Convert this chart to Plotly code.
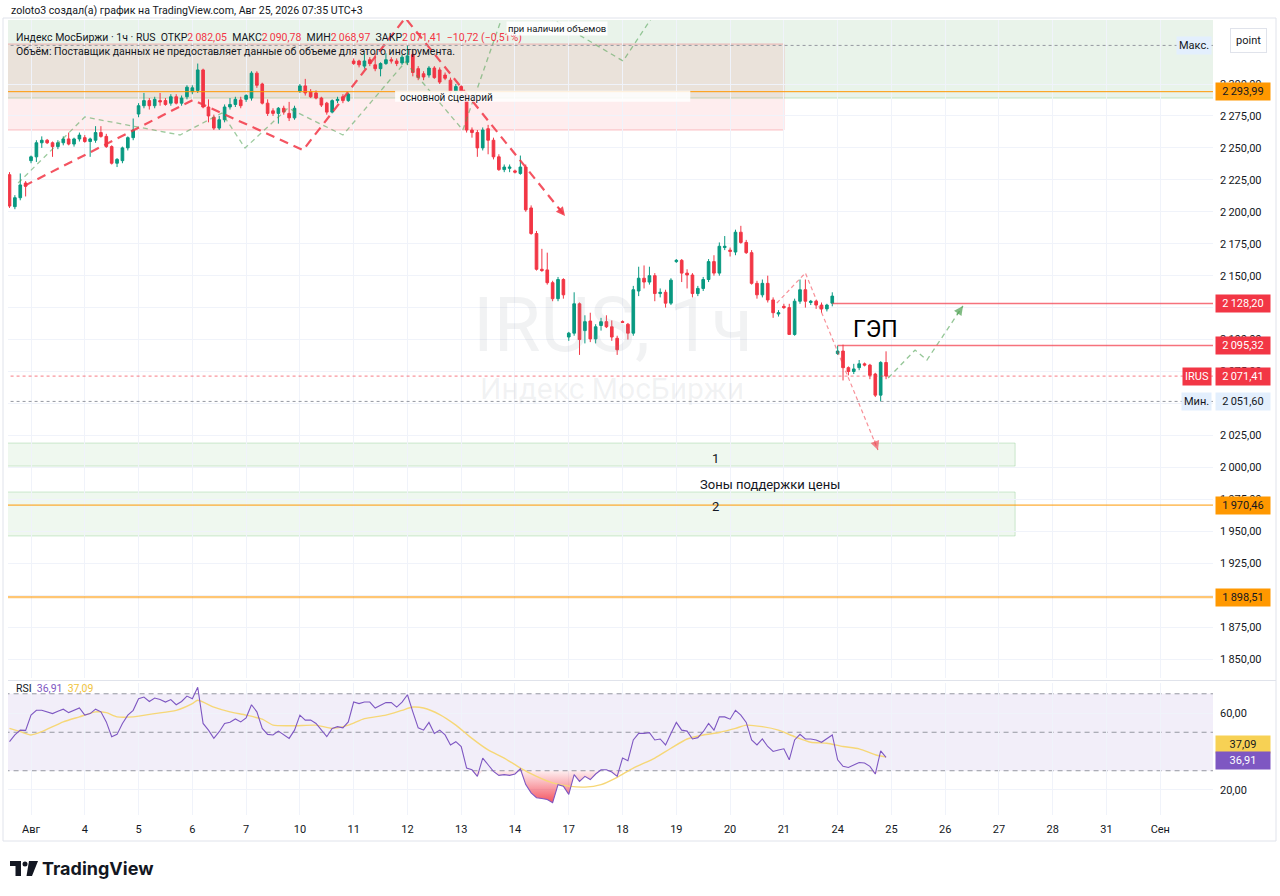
import plotly.graph_objects as go

# ---------------- DATA ----------------
day_labels = ["Авг", "4", "5", "6", "7", "10", "11", "12", "13", "14", "17", "18",
              "19", "20", "21", "24", "25", "26", "27", "28", "31", "Сен"]
bars_per_day = 10
first_day_bar = 5

opens = [2229, 2204, 2211, 2222.5,
         2240, 2243, 2254, 2256, 2254, 2251, 2254, 2257, 2253, 2257,
         2258, 2255, 2256, 2262, 2259, 2251, 2238, 2240, 2250, 2258,
         2276.5, 2283, 2287, 2283, 2287, 2287, 2285, 2290, 2285, 2290,
         2294, 2295, 2311, 2282, 2274, 2265.5, 2272, 2282, 2284, 2287.5,
         2288, 2289, 2308.5, 2300, 2285, 2279, 2277, 2281, 2277, 2273.5,
         2294.5, 2298.5, 2294, 2293, 2289, 2285, 2278, 2287, 2290, 2287,
         2318, 2318, 2314, 2319, 2315, 2312, 2316, 2319, 2318, 2316.5,
         2317, 2323, 2312, 2308, 2307, 2312.5, 2311, 2307, 2303, 2294,
         2298, 2292, 2264, 2262, 2250, 2265, 2256, 2243, 2233, 2234,
         2232, 2230, 2235, 2203, 2183, 2155, 2154.5, 2144.5, 2132, 2147,
         2102, 2105, 2128, 2107, 2114.5, 2100.5, 2111, 2114, 2110, 2101,
         2114, 2112, 2105, 2138, 2148, 2145, 2150, 2136, 2137, 2128.5,
         2161, 2162, 2152, 2150.5, 2136, 2140, 2147, 2161, 2152, 2172,
         2170, 2168.5, 2184, 2176, 2168, 2144, 2135, 2144, 2131, 2120,
         2126, 2125, 2104, 2130, 2139, 2129, 2130, 2127, 2124, 2128.5,
         2089, 2091, 2078, 2075, 2078, 2081, 2080, 2073, 2056.5, 2082.05]
highs = [2231, 2213, 2230, 2224,
         2244, 2256, 2259, 2257, 2255, 2256, 2259, 2262, 2258, 2262,
         2260, 2258, 2267, 2267, 2261, 2252, 2242, 2251, 2259, 2273,
         2285, 2293, 2289, 2290, 2293, 2289, 2292, 2292, 2291, 2299,
         2299, 2316, 2312, 2288, 2276, 2275, 2284, 2289, 2290, 2290,
         2292, 2310, 2310, 2301, 2288, 2281, 2282, 2283, 2286, 2283,
         2300, 2304, 2296, 2295, 2290, 2286, 2288, 2290, 2292, 2293,
         2320, 2319, 2324, 2321, 2324, 2317, 2324, 2321, 2320, 2323,
         2330.2, 2326, 2314, 2310, 2314, 2314, 2313, 2309, 2305, 2300,
         2299, 2293, 2266, 2264, 2266, 2268, 2258, 2245, 2237, 2237,
         2233, 2244, 2237, 2205, 2185, 2171, 2168, 2146, 2149, 2148,
         2106, 2137, 2129, 2119, 2121, 2112, 2117, 2119, 2115, 2103,
         2115, 2113, 2142, 2157, 2158, 2157, 2152, 2140, 2139, 2148,
         2163, 2163, 2155, 2152, 2142, 2149, 2163, 2166, 2176, 2181,
         2172, 2186, 2189, 2178, 2170, 2146, 2147, 2150, 2133, 2123,
         2128, 2128, 2132, 2147, 2147, 2131, 2131, 2129, 2128, 2137,
         2095.3, 2096, 2079, 2081, 2084, 2082, 2081, 2074, 2083, 2090.78]
lows = [2203, 2202, 2209, 2212,
        2238, 2239, 2250, 2253, 2243, 2249, 2252, 2252, 2251, 2255,
        2254, 2243, 2254, 2258, 2250, 2237, 2235, 2238, 2248, 2256,
        2274, 2281, 2280, 2281, 2283, 2283, 2283, 2284, 2283, 2288,
        2292, 2293, 2281, 2270, 2264, 2264, 2270, 2280, 2282, 2281,
        2286, 2287, 2297, 2284, 2275, 2275, 2269, 2276, 2271, 2272,
        2293, 2291, 2289, 2288, 2282, 2276, 2277, 2285, 2285, 2286,
        2315, 2313, 2312, 2314, 2310, 2306, 2315, 2316, 2314, 2315,
        2315, 2306, 2303, 2303, 2305, 2304, 2300, 2303, 2292, 2292,
        2293, 2262, 2258, 2243, 2248, 2245, 2241, 2232, 2231, 2231,
        2230, 2229, 2200, 2182, 2154, 2153, 2143, 2130, 2130, 2132,
        2099, 2103, 2088, 2097, 2098, 2097, 2107, 2109, 2099, 2088,
        2113, 2100, 2103, 2134, 2140, 2143, 2130, 2133, 2125, 2127,
        2160, 2145, 2140, 2133, 2134, 2138, 2145, 2150, 2150, 2170,
        2165, 2166, 2175, 2167, 2143, 2132, 2133, 2129, 2117, 2118,
        2124, 2104, 2103, 2128, 2125, 2127, 2124, 2121, 2122, 2126,
        2088, 2068, 2072, 2073, 2076, 2079, 2069, 2055, 2051.6, 2068.97]
closes = [2204.5, 2211, 2221, 2220,
          2243, 2254, 2256, 2254, 2251, 2254, 2257, 2253, 2257, 2260,
          2255, 2257, 2262, 2259, 2251, 2238, 2241, 2250, 2258, 2264,
          2283, 2287, 2283, 2288, 2286, 2284, 2290, 2285, 2289, 2297.5,
          2297, 2311, 2282, 2275, 2265.5, 2272, 2282, 2284, 2288, 2283,
          2291, 2308.5, 2299, 2285, 2277, 2277, 2281, 2278, 2273.5, 2281,
          2298.5, 2293, 2290, 2289, 2283.5, 2278, 2287, 2288, 2287, 2292,
          2316, 2315, 2318, 2316, 2312, 2316, 2319, 2318, 2316, 2321,
          2322, 2309, 2305, 2305.5, 2312.5, 2305, 2301.5, 2304.5, 2294, 2298,
          2294, 2264, 2262, 2250, 2264, 2256, 2243, 2233, 2235, 2235,
          2231, 2235, 2201.5, 2183, 2155, 2154, 2144.5, 2132, 2147, 2135,
          2105, 2128, 2100, 2114, 2100.5, 2110, 2114, 2110, 2102, 2092,
          2113.5, 2105, 2139, 2148, 2145, 2150, 2136, 2137, 2128.5, 2146.5,
          2162, 2152, 2150.5, 2136, 2140, 2147, 2161, 2152, 2173, 2173,
          2169, 2184, 2176, 2168, 2144, 2135, 2144, 2131, 2121, 2121,
          2125, 2104, 2130, 2139, 2130, 2130, 2127, 2124, 2127, 2134,
          2091, 2078, 2075, 2077, 2081, 2080, 2072, 2056.5, 2082.13, 2071.41]

rsi = [45.1, 48.6, 51.1, 51.0, 58.9, 61.4, 61.4, 60.6, 59.7, 60.9,
       62.0, 60.2, 61.4, 62.6, 58.9, 59.7, 62.0, 60.6, 55.4, 47.7,
       48.9, 54.6, 58.9, 61.4, 67.4, 68.3, 66.0, 67.8, 67.0, 65.7,
       67.0, 64.3, 66.0, 68.8, 67.4, 73.4, 54.6, 51.1, 46.8, 50.3,
       54.6, 55.2, 56.9, 55.4, 57.5, 64.3, 60.6, 52.0, 48.9, 48.6,
       50.6, 48.6, 46.8, 51.1, 58.9, 56.3, 56.3, 54.6, 51.1, 47.7,
       52.0, 52.9, 52.3, 55.4, 65.7, 64.9, 65.7, 65.7, 62.6, 64.0,
       65.4, 65.4, 63.1, 65.7, 69.5, 60.6, 52.3, 51.1, 55.1, 49.4,
       51.1, 48.6, 43.4, 45.1, 42.6, 31.4, 30.5, 27.1, 36.6, 33.1,
       29.7, 27.6, 28.0, 27.6, 28.3, 31.0, 22.8, 18.5, 16.0, 15.6,
       15.1, 13.4, 22.8, 22.0, 17.7, 28.0, 24.5, 27.1, 25.4, 28.3,
       30.5, 30.5, 29.3, 27.1, 36.6, 35.2, 46.0, 49.4, 49.4, 49.8,
       46.0, 46.5, 43.4, 49.4, 55.1, 51.1, 50.6, 46.5, 47.2, 50.3,
       54.6, 51.1, 58.0, 58.0, 56.8, 61.4, 58.9, 55.1, 46.0, 43.4,
       46.5, 42.6, 40.0, 40.8, 41.4, 35.7, 46.0, 48.9, 46.5, 46.5,
       46.0, 44.8, 46.5, 48.6, 35.7, 32.3, 31.7, 32.8, 34.3, 34.0,
       32.3, 28.3, 40.3, 36.91]

rsi_ma_bars = [1, 3, 5, 7, 11, 14, 17, 19, 21, 24, 28, 32, 35, 36, 39, 42, 45, 48,
               50, 54, 58, 61, 64, 67, 71, 74, 76, 78, 81, 84, 87, 90, 93, 96, 99,
               102, 105, 108, 111, 114, 117, 121, 124, 127, 130, 133, 136, 138,
               141, 144, 147, 150, 153, 156, 159, 162, 164]
rsi_ma = [52.0, 50.3, 48.6, 50.3, 55.4, 58.0, 60.6, 60.2, 58.0, 58.0, 59.7, 61.4,
          64.9, 66.6, 63.1, 60.6, 58.9, 56.8, 53.7, 53.4, 53.7, 52.0, 53.7, 57.1,
          58.9, 61.4, 63.1, 62.6, 59.2, 53.7, 46.8, 40.8, 36.6, 31.4, 27.1, 23.7,
          22.0, 21.5, 22.8, 26.6, 31.4, 36.6, 41.7, 46.5, 48.6, 49.9, 52.0, 53.7,
          52.9, 51.1, 47.7, 44.8, 44.3, 42.6, 41.4, 38.3, 37.09]

# horizontal levels drawn by the author
orange_levels = [2293.99, 1970.46, 1898.51]
gap_levels = [2128.20, 2095.32]
gap_start_bars = [154, 155]
zone1 = [2001.0, 2019.0]
zone2 = [1946.3, 1980.7]
zones_end_bar = 188
resist_box = [2264.0, 2331.3]
resist_box_end_bar = 145
upper_box_bottom = 2289.0

# scenario paths (bar index, price)
red_path_bars = [3.7, 35.1, 55.6, 74.6, 104.3]
red_path_prices = [2220.2, 2287.5, 2248.3, 2351.7, 2196.7]
pink_path_bars = [143.7, 149.0, 162.5]
pink_path_prices = [2128.6, 2152.1, 2013.6]
green_path_bars = [2.6, 15.0, 32.7, 40.5, 44.8, 52.8, 63.0, 74.6, 85.3, 94.1, 115.1, 122.0]
green_path_prices = [2222.5, 2274.2, 2260.1, 2277.3, 2249.9, 2281.2, 2260.1, 2317.2,
                     2264.0, 2370.4, 2318.0, 2361.8]
green2_bars = [164.4, 169.4, 171.6, 178.3]
green2_prices = [2069.9, 2091.8, 2084.0, 2126.3]

price_ticks = [1850 + 25 * k for k in range(19)]
hidden_price_ticks = [2125]   # covered by the 2128,20 label in the original
rsi_ticks = [20, 60]

# ---------------- HELPERS ----------------
W, H = 1280, 896
ML, MR, MT, MB = 8, 67, 20, 81
PW, PH = W - ML - MR, H - MT - MB


def xp(px):
    return (px - ML) / PW


def yp(py):
    return (H - MB - py) / PH


def fmt(v):
    return f"{v:,.2f}".replace(",", "\u2009").replace(".", ",")


bars = list(range(1, len(closes) + 1))
day_ticks = [first_day_bar + bars_per_day * k for k in range(len(day_labels))]

RED = "#f23645"
GREEN = "#089981"
ORANGE = "#ff9800"
TXT = "#131722"
GRID = "#f0f3fa"

fig = go.Figure()

fig.add_trace(go.Candlestick(
    x=bars, open=opens, high=highs, low=lows, close=closes,
    increasing=dict(line=dict(color=GREEN, width=1), fillcolor=GREEN),
    decreasing=dict(line=dict(color=RED, width=1), fillcolor=RED),
    whiskerwidth=0, xaxis="x", yaxis="y", hoverinfo="skip", showlegend=False))

# scenario paths
fig.add_trace(go.Scatter(x=green_path_bars, y=green_path_prices, mode="lines",
                         line=dict(color="rgba(76,160,80,0.55)", width=1.3, dash="5px,4px"),
                         xaxis="x", yaxis="y", hoverinfo="skip"))
fig.add_trace(go.Scatter(x=green2_bars, y=green2_prices, mode="lines",
                         line=dict(color="rgba(76,160,80,0.6)", width=1.3, dash="5px,4px"),
                         xaxis="x", yaxis="y", hoverinfo="skip"))
fig.add_trace(go.Scatter(x=red_path_bars, y=red_path_prices, mode="lines",
                         line=dict(color="rgba(242,54,69,0.85)", width=2.2, dash="9px,6px"),
                         xaxis="x", yaxis="y", hoverinfo="skip"))
fig.add_trace(go.Scatter(x=pink_path_bars, y=pink_path_prices, mode="lines",
                         line=dict(color="rgba(242,54,69,0.55)", width=1.2, dash="4px,3px"),
                         xaxis="x", yaxis="y", hoverinfo="skip"))

# RSI
fig.add_trace(go.Scatter(x=bars, y=[30] * len(bars), mode="lines", line=dict(width=0, color="rgba(0,0,0,0)"),
                         xaxis="x2", yaxis="y2", hoverinfo="skip"))
fig.add_trace(go.Scatter(x=bars, y=[min(v, 30) for v in rsi], mode="lines", line=dict(width=0, color="rgba(0,0,0,0)"),
                         fill="tonexty",
                         fillgradient=dict(type="vertical",
                                           colorscale=[[0, "rgba(242,54,69,0.85)"], [1, "rgba(242,54,69,0.08)"]]),
                         xaxis="x2", yaxis="y2", hoverinfo="skip"))
fig.add_trace(go.Scatter(x=rsi_ma_bars, y=rsi_ma, mode="lines", line=dict(color="#f6d777", width=1.4, shape="spline", smoothing=0.6),
                         xaxis="x2", yaxis="y2", hoverinfo="skip"))
fig.add_trace(go.Scatter(x=bars, y=rsi, mode="lines", line=dict(color="#7e57c2", width=1.1),
                         xaxis="x2", yaxis="y2", hoverinfo="skip"))

shapes = []
XL, XR = -20, 400
# big boxes
shapes.append(dict(type="rect", xref="x", yref="y", x0=XL, x1=XR, y0=upper_box_bottom, y1=2450,
                   fillcolor="rgba(56,142,60,0.11)", line=dict(color="rgba(76,175,80,0.3)", width=1), layer="below"))
shapes.append(dict(type="rect", xref="x", yref="y", x0=XL, x1=resist_box_end_bar, y0=resist_box[0], y1=resist_box[1],
                   fillcolor="rgba(242,54,69,0.09)", line=dict(color="rgba(242,54,69,0.3)", width=1), layer="below"))
for z in (zone1, zone2):
    shapes.append(dict(type="rect", xref="x", yref="y", x0=XL, x1=zones_end_bar, y0=z[0], y1=z[1],
                       fillcolor="rgba(76,175,80,0.09)", line=dict(color="rgba(76,175,80,0.25)", width=1), layer="below"))
# RSI band
shapes.append(dict(type="rect", xref="x2", yref="y2", x0=XL, x1=XR, y0=30, y1=70,
                   fillcolor="rgba(126,87,194,0.1)", line=dict(width=0), layer="below"))
for lv in (70, 50, 30):
    shapes.append(dict(type="line", xref="x2", yref="y2", x0=XL, x1=XR, y0=lv, y1=lv,
                       line=dict(color="#9598a1", width=1, dash="5px,4px"), layer="below"))
# level lines
widths = [1, 1, 2.2]
colors = [ORANGE, ORANGE, "rgba(255,152,0,0.55)"]
for lv, w, c in zip(orange_levels, widths, colors):
    shapes.append(dict(type="line", xref="x", yref="y", x0=XL, x1=XR, y0=lv, y1=lv, line=dict(color=c, width=w)))
for lv, b in zip(gap_levels, gap_start_bars):
    shapes.append(dict(type="line", xref="x", yref="y", x0=b, x1=XR, y0=lv, y1=lv,
                       line=dict(color="rgba(242,54,69,0.7)", width=1.5)))
last_close = closes[-1]
low_min = min(lows)
high_max = max(highs)
shapes.append(dict(type="line", xref="x", yref="y", x0=XL, x1=XR, y0=last_close, y1=last_close,
                   line=dict(color="rgba(242,54,69,0.65)", width=1, dash="dot")))
shapes.append(dict(type="line", xref="x", yref="y", x0=XL, x1=XR, y0=low_min, y1=low_min,
                   line=dict(color="#9598a1", width=1, dash="dot")))
shapes.append(dict(type="line", xref="x", yref="y", x0=XL, x1=XR, y0=high_max, y1=high_max,
                   line=dict(color="#9598a1", width=1, dash="dot")))
# white box behind "основной сценарий"
shapes.append(dict(type="rect", xref="x", yref="y", x0=72.7, x1=127.6, y0=2286.2, y1=2294.8,
                   fillcolor="rgba(255,255,255,0.85)", line=dict(width=0)))
# pane separator + frame
shapes.append(dict(type="line", xref="paper", yref="paper", x0=0, x1=xp(1276), y0=yp(680.5), y1=yp(680.5),
                   line=dict(color="#e0e3eb", width=1)))
shapes.append(dict(type="rect", xref="paper", yref="paper", x0=xp(3), x1=xp(1276), y0=yp(841), y1=yp(18),
                   line=dict(color="#e0e3eb", width=1), fillcolor="rgba(0,0,0,0)"))
# TradingView logo glyph
shapes.append(dict(type="rect", xref="paper", yref="paper", x0=xp(10), x1=xp(21), y0=yp(866), y1=yp(861),
                   fillcolor="#131722", line=dict(width=0)))
shapes.append(dict(type="rect", xref="paper", yref="paper", x0=xp(15.5), x1=xp(21), y0=yp(876), y1=yp(861),
                   fillcolor="#131722", line=dict(width=0)))
shapes.append(dict(type="circle", xref="paper", yref="paper", x0=xp(22.5), x1=xp(27.5), y0=yp(866.5), y1=yp(861.5),
                   fillcolor="#131722", line=dict(width=0)))
shapes.append(dict(type="path", xref="paper", yref="paper",
                   path=f"M {xp(29)} {yp(861)} L {xp(38)} {yp(861)} L {xp(32)} {yp(876)} L {xp(26.5)} {yp(876)} Z",
                   fillcolor="#131722", line=dict(width=0)))

ann = []


def txt(x, y, text, size=11, color=TXT, xanchor="left", xref="paper", yref="paper", **kw):
    d = dict(x=x, y=y, xref=xref, yref=yref, text=text, showarrow=False, xanchor=xanchor, yanchor="middle",
             font=dict(size=size, color=color))
    d.update(kw)
    ann.append(d)


# watermark
txt(xp(613), yp(325), "IRUS, 1ч", size=76, color="rgba(149,152,161,0.13)", xanchor="center")
txt(xp(612), yp(388), "Индекс МосБиржи", size=30, color="rgba(149,152,161,0.13)", xanchor="center")

# header texts
txt(xp(9), yp(10), "zoloto3 создал(а) график на TradingView.com, Авг 25, 2026 07:35 UTC+3", size=10.6)
prev_close = closes[-2]
chg = last_close - prev_close
R = "#f23645"
sgn = "−" if chg < 0 else "+"
legend1 = (f"Индекс МосБиржи · 1ч · RUS  ОТКР<span style='color:{R}'>{fmt(opens[-1])}</span>  "
           f"МАКС<span style='color:{R}'>{fmt(highs[-1])}</span>  МИН<span style='color:{R}'>{fmt(lows[-1])}</span>  "
           f"ЗАКР<span style='color:{R}'>{fmt(last_close)}  {sgn}{fmt(abs(chg))} "
           f"({sgn}{fmt(abs(chg) / prev_close * 100)}%)</span>")
txt(xp(14), yp(37), legend1, size=10.5)
txt(xp(14), yp(52), "Объём: Поставщик данных не предоставляет данные об объеме для этого инструмента.", size=10.5)
txt(xp(14), yp(688), f"RSI  <span style='color:#7e57c2'>{fmt(rsi[-1])}</span>  "
                     f"<span style='color:#f0c43c'>{fmt(rsi_ma[-1])}</span>", size=10.5)

# drawing labels
txt(73.3, 2289.3, "основной сценарий", size=10, xref="x", yref="y")
txt(93.3, 2343.6, "при наличии объемов", size=9.5, xref="x", yref="y", bgcolor="rgba(255,255,255,0.9)", borderpad=1)
txt(162.0, 2107.5, "ГЭП", size=23, xref="x", yref="y", xanchor="center", font=dict(size=23, color="#000000"))
txt(132.2, 2007.3, "1", size=13, xref="x", yref="y", xanchor="center")
txt(142.4, 1986.2, "Зоны поддержки цены", size=13, xref="x", yref="y", xanchor="center")
txt(132.2, 1969.7, "2", size=13, xref="x", yref="y", xanchor="center")

# arrow heads
for (bx, py), (ax, ay), col in [((red_path_bars[-1], red_path_prices[-1]), (-8, -10), "rgba(242,54,69,0.85)"),
                                ((pink_path_bars[-1], pink_path_prices[-1]), (-4, -11), "rgba(242,54,69,0.6)"),
                                ((green2_bars[-1], green2_prices[-1]), (-7, 10), "rgba(76,160,80,0.7)")]:
    ann.append(dict(x=bx, y=py, xref="x", yref="y", ax=ax, ay=ay, showarrow=True, arrowhead=2,
                    arrowsize=1.2, arrowwidth=1.5, arrowcolor=col, text=""))


def plabel(val, bg, fg, yref="y", text=None, yshift=0):
    ann.append(dict(x=1, xref="paper", xanchor="left", xshift=2, y=val, yref=yref, yshift=yshift,
                    text=text if text is not None else fmt(val), showarrow=False, bgcolor=bg,
                    font=dict(size=11, color=fg), borderpad=2, width=50))


for lv in orange_levels:
    plabel(lv, ORANGE, TXT)
for lv in gap_levels:
    plabel(lv, RED, "white")
plabel(last_close, RED, "white")
plabel(low_min, "#e3effd", TXT)
for val, text, bg, fg in [(last_close, "IRUS", RED, "white"), (low_min, "Мин.", "#e3effd", TXT),
                          (high_max, "Макс.", "#e3effd", TXT)]:
    ann.append(dict(x=1, xref="paper", xanchor="right", xshift=-1, y=val, yref="y", text=text,
                    showarrow=False, bgcolor=bg, font=dict(size=11, color=fg), borderpad=2))
plabel(rsi_ma[-1], "#f7d154", TXT, yref="y2", yshift=13)
plabel(rsi[-1], "#7e57c2", "white", yref="y2", yshift=-3)

# "point" button
ann.append(dict(x=xp(1249), y=yp(40), xref="paper", yref="paper", text="point", showarrow=False,
                xanchor="center", yanchor="middle", font=dict(size=11, color=TXT), bgcolor="white",
                bordercolor="#e0e3eb", borderwidth=1, borderpad=5))

# TradingView wordmark
txt(xp(40), yp(868), "<b>TradingView</b>", size=18,
    font=dict(size=18, color="#131722", family="Inter, Roboto, sans-serif"))

fig.update_layout(
    width=W, height=H, margin=dict(l=ML, r=MR, t=MT, b=MB),
    paper_bgcolor="white", plot_bgcolor="white", showlegend=False,
    font=dict(family="Roboto, 'Noto Sans', sans-serif", size=11, color=TXT),
    xaxis=dict(domain=[0, 1], anchor="y", range=[0.72, 224.8], tickvals=day_ticks, showticklabels=False,
               showgrid=True, gridcolor=GRID, zeroline=False, showline=False, ticks="",
               rangeslider=dict(visible=False), fixedrange=True),
    yaxis=dict(domain=[yp(678), 1], anchor="x", range=[1835.14, 2350.09], side="right",
               tickvals=price_ticks,
               ticktext=["" if v in hidden_price_ticks else fmt(v) for v in price_ticks],
               showgrid=True, gridcolor=GRID,
               zeroline=False, showline=False, ticks="", ticklabelstandoff=6, tickfont=dict(size=11, color=TXT)),
    xaxis2=dict(domain=[0, 1], anchor="y2", matches="x", tickvals=day_ticks, ticktext=day_labels,
                showgrid=True, gridcolor=GRID, zeroline=False, showline=False, ticks="",
                ticklabelstandoff=6,
                tickfont=dict(size=11, color=TXT), rangeslider=dict(visible=False)),
    yaxis2=dict(domain=[0, yp(683)], anchor="x2", range=[7.0, 75.6], side="right",
                tickvals=rsi_ticks, ticktext=[fmt(v) for v in rsi_ticks], showgrid=True, gridcolor=GRID,
                zeroline=False, showline=False, ticks="", ticklabelstandoff=6, tickfont=dict(size=11, color=TXT)),
    shapes=shapes, annotations=ann,
)

fig.write_html("out.html", config={"displayModeBar": False, "staticPlot": True},
               post_script="document.body.style.margin='0';document.body.style.overflow='hidden';")
